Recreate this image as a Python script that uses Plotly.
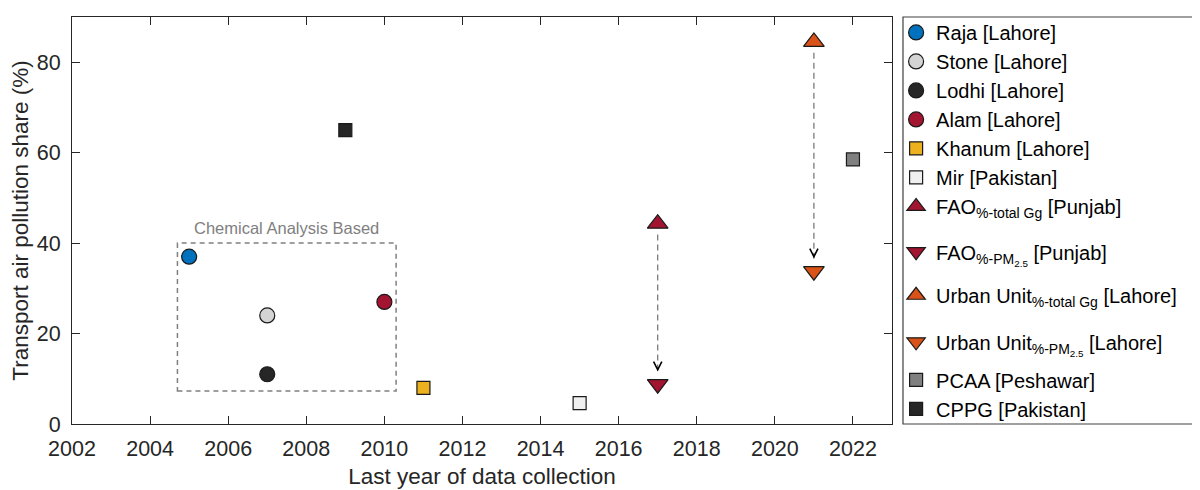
import plotly.graph_objects as go

# study, year, transport share (%)
names = [
    "Raja [Lahore]",
    "Stone [Lahore]",
    "Lodhi [Lahore]",
    "Alam [Lahore]",
    "Khanum [Lahore]",
    "Mir [Pakistan]",
    "FAO<sub>%-total Gg</sub> [Punjab]",
    "FAO<sub>%-PM<sub>2.5</sub></sub> [Punjab]",
    "Urban Unit<sub>%-total Gg</sub> [Lahore]",
    "Urban Unit<sub>%-PM<sub>2.5</sub></sub> [Lahore]",
    "PCAA [Peshawar]",
    "CPPG [Pakistan]",
]
years = [2005, 2007, 2007, 2010, 2011, 2015, 2017, 2017, 2021, 2021, 2022, 2009]
shares = [37, 24, 11, 27, 8, 4.6, 44.3, 8.8, 84.5, 33.8, 58.5, 65]
symbols = ["circle", "circle", "circle", "circle", "square", "square",
           "triangle-up", "triangle-down", "triangle-up", "triangle-down",
           "square", "square"]
colors = ["#0072BD", "#D4D4D4", "#262626", "#A2142F", "#EDB120", "#F0F0F0",
          "#A2142F", "#A2142F", "#D95319", "#D95319", "#808080", "#262626"]
sizes = [15, 15, 15, 15, 13, 13, 18, 18, 18, 18, 13, 13]
# which legend block each entry sits in (subscript rows need extra room)
legend_ids = ["legend"] * 7 + ["legend2", "legend3", "legend4", "legend5", "legend5"]

# arrows from %-total Gg to %-PM2.5 estimate
arrow_years = [2017, 2021]
arrow_from = [44.3, 84.5]
arrow_to = [8.8, 33.8]

box_x = [2004.7, 2010.3]
box_y = [7.3, 40]

font = "Liberation Sans, Arial, sans-serif"
ink = "#262626"

fig = go.Figure()

for yr, y0, y1 in zip(arrow_years, arrow_from, arrow_to):
    fig.add_trace(go.Scatter(
        x=[yr, yr], y=[y0 - 2.4, y1 + 2.8],
        mode="lines",
        line=dict(color="#707070", width=1.2, dash="6px,4px"),
        showlegend=False, hoverinfo="skip",
    ))
    fig.add_annotation(
        x=yr, y=y1 + 2.8, ax=0, ay=-5, text="",
        showarrow=True, arrowhead=5, arrowsize=1.6, arrowwidth=1,
        arrowcolor="black",
    )

for n, x, y, s, c, sz, lg in zip(names, years, shares, symbols, colors, sizes, legend_ids):
    fig.add_trace(go.Scatter(
        x=[x], y=[y], name=n, mode="markers", legend=lg,
        marker=dict(symbol=s, size=sz, color=c,
                    line=dict(color="#1a1a1a", width=1.2)),
    ))

fig.add_shape(type="rect", x0=box_x[0], x1=box_x[1], y0=box_y[0], y1=box_y[1],
              line=dict(color="#808080", width=1.5, dash="5px,4px"))
fig.add_annotation(x=sum(box_x) / 2, y=box_y[1], yshift=15, text="Chemical Analysis Based",
                   showarrow=False, font=dict(size=16.5, color="#808080", family=font))

# legend frame
fig.add_shape(type="rect", xref="paper", yref="paper", x0=1.0134, x1=1.372, y0=0, y1=1,
              line=dict(color="#404040", width=1.2))

axis_style = dict(
    showline=True, linecolor=ink, linewidth=1.2, mirror="ticks",
    ticks="inside", ticklen=8, tickwidth=1.2, tickcolor=ink,
    showgrid=False, zeroline=False, automargin=False,
    tickfont=dict(size=21.5, color=ink, family=font),
)

# the page body adds an 8px margin, so the figure is 8px smaller
plot_top, plot_h = 13, 411


def py(pix):
    return 1 - (pix - plot_top) / plot_h


leg_base = dict(x=1.005, xanchor="left", bgcolor="rgba(0,0,0,0)", borderwidth=0,
                font=dict(size=20, color="black", family=font), itemwidth=30)

fig.update_layout(
    width=1192, height=482,
    margin=dict(l=64, r=308, t=5, b=66),
    plot_bgcolor="white", paper_bgcolor="white",
    font=dict(family=font, color=ink),
    xaxis=dict(range=[2002, 2023], dtick=2, ticklabelstandoff=5,
               title=dict(text="Last year of data collection", font=dict(size=22.5), standoff=8),
               **axis_style),
    yaxis=dict(range=[0, 90], tickvals=[0, 20, 40, 60, 80], ticklabelstandoff=6,
               title=dict(text="Transport air pollution share (%)", font=dict(size=22.5), standoff=3),
               **axis_style),
    legend=dict(y=py(13) + 0.01, yanchor="top", **leg_base),
    legend2=dict(y=py(250), yanchor="middle", **leg_base),
    legend3=dict(y=py(294), yanchor="middle", **leg_base),
    legend4=dict(y=py(341), yanchor="middle", **leg_base),
    legend5=dict(y=py(394), yanchor="middle", **leg_base),
    showlegend=True,
)

fig.write_html("out.html")
